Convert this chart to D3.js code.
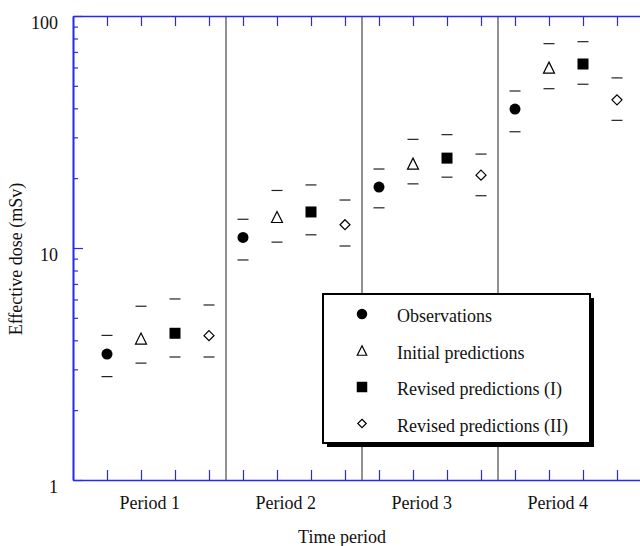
<!DOCTYPE html>
<html>
<head>
<meta charset="utf-8">
<script src="https://cdn.jsdelivr.net/npm/d3@7"></script>
<style>
  html, body { margin: 0; padding: 0; background: #fff; }
  svg { display: block; }
  text { font-family: "Liberation Serif", "Times New Roman", serif; fill: #111; }
</style>
</head>
<body>
<svg id="chart" width="640" height="546"></svg>
<script>
// Effective dose per time period: observed values and three model predictions,
// each with lower/upper bounds (mSv)
const periods = ["Period 1", "Period 2", "Period 3", "Period 4"];
const seriesNames = ["Observations", "Initial predictions", "Revised predictions (I)", "Revised predictions (II)"];

const observations     = [3.49, 11.1, 18.3, 39.7];
const observationsLow  = [2.79, 8.88, 14.9, 31.7];
const observationsHigh = [4.20, 13.3, 21.9, 47.5];

const initialPred      = [4.07, 13.6, 23.1, 59.9];
const initialPredLow   = [3.19, 10.6, 18.9, 48.6];
const initialPredHigh  = [5.61, 17.7, 29.4, 76.0];

const revisedI         = [4.29, 14.3, 24.4, 62.1];
const revisedILow      = [3.39, 11.4, 20.2, 50.8];
const revisedIHigh     = [6.03, 18.7, 30.8, 77.5];

const revisedII        = [4.19, 12.6, 20.6, 43.5];
const revisedIILow     = [3.39, 10.2, 16.8, 35.5];
const revisedIIHigh    = [5.68, 16.1, 25.4, 54.1];

const yMajorTicks = [1, 10, 100];
const yTickLabels = ["1", "10", "100"];

const seriesData = [
  { name: seriesNames[0], value: observations, low: observationsLow, high: observationsHigh, symbol: "circle" },
  { name: seriesNames[1], value: initialPred,  low: initialPredLow,  high: initialPredHigh,  symbol: "triangle" },
  { name: seriesNames[2], value: revisedI,     low: revisedILow,     high: revisedIHigh,     symbol: "square" },
  { name: seriesNames[3], value: revisedII,    low: revisedIILow,    high: revisedIIHigh,    symbol: "diamond" }
];

const svg = d3.select("#chart");
const plotLeft = 73, plotTop = 16, plotBottom = 480, plotRight = 651;
const axisColor = "#2a2ae6";

// one slot per marker: 4 series in each of 4 periods
const x = d3.scaleLinear().domain([0, 17]).range([plotLeft, plotRight]);
const y = d3.scaleLog().domain([1, 100]).range([plotBottom, plotTop]);

const slot = (p, s) => p * 4 + s + 1;
const slots = d3.range(1, 17);

// period separators
const dividers = [4.5, 8.5, 12.5];
svg.append("g").selectAll("line").data(dividers).join("line")
  .attr("x1", d => x(d)).attr("x2", d => x(d))
  .attr("y1", plotTop).attr("y2", plotBottom)
  .attr("stroke", "#555").attr("stroke-width", 1.3);

// axes
function styleAxis(g) {
  g.selectAll("path.domain").attr("stroke", axisColor).attr("stroke-width", 1.6);
  g.selectAll(".tick line").attr("stroke", axisColor).attr("stroke-width", 1.2);
  g.selectAll(".tick text").remove();
}
svg.append("g").attr("transform", `translate(0,${plotTop})`)
  .call(d3.axisBottom(x).tickValues(slots).tickSize(10).tickSizeOuter(0))
  .call(styleAxis);
svg.append("g").attr("transform", `translate(0,${plotBottom})`)
  .call(d3.axisTop(x).tickValues(slots).tickSize(10).tickSizeOuter(0))
  .call(styleAxis);

const minorTicks = [];
for (const base of [1, 10]) for (let k = 2; k <= 9; k++) minorTicks.push(base * k);
svg.append("g").attr("transform", `translate(${plotLeft},0)`)
  .call(d3.axisRight(y).tickValues(yMajorTicks).tickSize(10).tickSizeOuter(0))
  .call(styleAxis);
svg.append("g").attr("transform", `translate(${plotLeft},0)`)
  .call(d3.axisRight(y).tickValues(minorTicks).tickSize(5).tickSizeOuter(0))
  .call(styleAxis);

// y tick labels
svg.append("g").selectAll("text").data(yMajorTicks).join("text")
  .attr("x", 58).attr("y", d => y(d) + 13)
  .attr("text-anchor", "end").attr("font-size", 18)
  .text((d, i) => yTickLabels[i]);

// period labels
svg.append("g").selectAll("text").data(periods).join("text")
  .attr("x", (d, i) => x(i * 4 + 2.26))
  .attr("y", 509)
  .attr("text-anchor", "middle").attr("font-size", 18)
  .text(d => d);

// axis titles
svg.append("text").attr("x", 342).attr("y", 543)
  .attr("text-anchor", "middle").attr("font-size", 18).text("Time period");
svg.append("text")
  .attr("transform", `translate(22,259) rotate(-90)`)
  .attr("text-anchor", "middle").attr("font-size", 18).text("Effective dose (mSv)");

// marker shapes
const markerSize = 11;
function drawSymbol(g, type, cx, cy, size) {
  const h = size / 2;
  if (type === "circle") {
    g.append("circle").attr("cx", cx).attr("cy", cy).attr("r", h).attr("fill", "#000");
  } else if (type === "square") {
    g.append("rect").attr("x", cx - h).attr("y", cy - h).attr("width", size).attr("height", size).attr("fill", "#000");
  } else if (type === "triangle") {
    g.append("path")
      .attr("d", `M${cx},${cy - h}L${cx + h},${cy + h}L${cx - h},${cy + h}Z`)
      .attr("fill", "#fff").attr("stroke", "#000").attr("stroke-width", 1.2);
  } else if (type === "diamond") {
    g.append("path")
      .attr("d", `M${cx},${cy - h + 0.5}L${cx + h - 0.5},${cy}L${cx},${cy + h - 0.5}L${cx - h + 0.5},${cy}Z`)
      .attr("fill", "#fff").attr("stroke", "#000").attr("stroke-width", 1.2);
  }
}

// bounds (horizontal dashes) and markers
const marks = svg.append("g");
seriesData.forEach((s, si) => {
  periods.forEach((p, pi) => {
    const cx = x(slot(pi, si));
    [s.low[pi], s.high[pi]].forEach(v => {
      marks.append("line")
        .attr("x1", cx - 5.5).attr("x2", cx + 5.5)
        .attr("y1", y(v)).attr("y2", y(v))
        .attr("stroke", "#222").attr("stroke-width", 1.2);
    });
    drawSymbol(marks, s.symbol, cx, y(s.value[pi]), markerSize);
  });
});

// legend with drop shadow
const lg = svg.append("g");
const lx = 323, ly = 294, lw = 267, lh = 149;
lg.append("rect").attr("x", lx + 4).attr("y", ly + 4).attr("width", lw).attr("height", lh).attr("fill", "#000");
lg.append("rect").attr("x", lx).attr("y", ly).attr("width", lw).attr("height", lh)
  .attr("fill", "#fff").attr("stroke", "#000").attr("stroke-width", 2);
seriesData.forEach((s, i) => {
  const base = 322 + i * 36.5;
  drawSymbol(lg, s.symbol, 362, base - 8, s.symbol === "triangle" || s.symbol === "diamond" ? 9.5 : 10.5);
  lg.append("text").attr("x", 397).attr("y", base).attr("font-size", 18).text(s.name);
});
</script>
</body>
</html>
